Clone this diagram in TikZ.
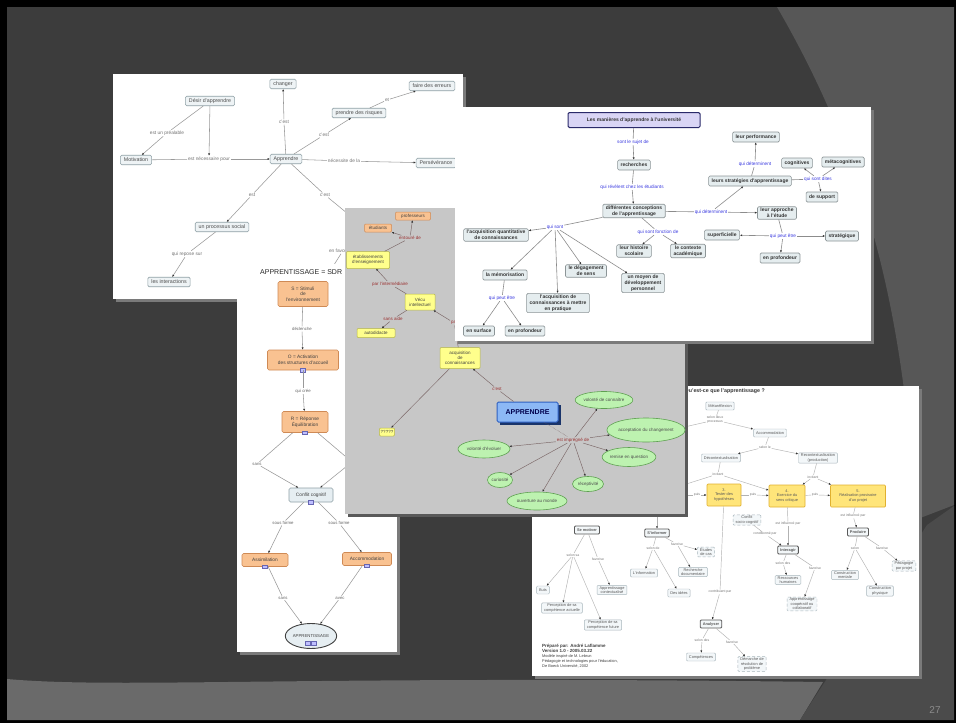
\documentclass[tikz,border=0pt]{standalone}
\usepackage{fontspec}
\setmainfont{Liberation Sans}
\setsansfont{Liberation Sans}
\usetikzlibrary{arrows.meta,shapes.geometric}
\definecolor{bgdark}{HTML}{3C3C3C}
\definecolor{bglight}{HTML}{575757}
\definecolor{bgband}{HTML}{6A6A6A}
\definecolor{bgmed}{HTML}{4B4B4B}
\definecolor{shad}{HTML}{7A7A7A}
\definecolor{cfillA}{HTML}{EEF3F5}
\definecolor{cdrawA}{HTML}{8FA0A6}
\definecolor{orfill}{HTML}{F9C291}
\definecolor{ordraw}{HTML}{CF8A55}
\definecolor{yefill}{HTML}{FFFF8C}
\definecolor{yedraw}{HTML}{B5B54A}
\definecolor{yetwofill}{HTML}{FFE57A}
\definecolor{yetwodraw}{HTML}{E0B030}
\definecolor{grfill}{HTML}{BDF2B0}
\definecolor{grdraw}{HTML}{5FA052}
\definecolor{apfill}{HTML}{8CB8F5}
\definecolor{apdraw}{HTML}{2E5FC0}
\definecolor{panD}{HTML}{C7C7C7}
\definecolor{labBc}{HTML}{3A3AE0}
\definecolor{labDc}{HTML}{9A3030}
\definecolor{lnDc}{HTML}{7A6565}
\definecolor{titB}{HTML}{D9D5F5}
\definecolor{titBd}{HTML}{2A2A6A}
\definecolor{cfillB}{HTML}{E5EDEF}
\definecolor{cdrawB}{HTML}{8C9597}
\definecolor{cfillE}{HTML}{F3F7F9}
\definecolor{cdrawE}{HTML}{A8B6BC}
\definecolor{ccfill}{HTML}{E6EEF2}
\newcommand\myfsA{\fontsize{5.3}{6}\selectfont}
\newcommand\myfsAl{\fontsize{4.8}{5.5}\selectfont}
\newcommand\myfsB{\fontsize{5}{5.8}\selectfont\bfseries}
\newcommand\myfsBl{\fontsize{4.7}{5.4}\selectfont}
\newcommand\myfsC{\fontsize{4.8}{5.5}\selectfont}
\newcommand\myfsCl{\fontsize{4.3}{5}\selectfont}
\newcommand\myfsD{\fontsize{4.5}{5.1}\selectfont}
\newcommand\myfsE{\fontsize{3.9}{4.5}\selectfont}
\newcommand\myfsEl{\fontsize{3.4}{4}\selectfont}
\begin{document}
\begin{tikzpicture}[x=1pt,y=-1pt,
 ar/.style={-{Latex[length=2.3pt,width=2.1pt,color=black!80]}},
 cA/.style={draw=cdrawA, fill=cfillA, rounded corners=1.3pt, line width=0.55pt, inner xsep=3.5pt, inner ysep=1pt, minimum height=9.5pt, font=\myfsA, text=black!70},
 labA/.style={inner sep=0.8pt, font=\myfsAl, text=black!55},
 lnA/.style={draw=black!40, line width=0.55pt},
 cB/.style={draw=cdrawB, fill=cfillB, rounded corners=1.3pt, line width=0.6pt, inner xsep=3pt, inner ysep=1.5pt, minimum height=10pt, font=\myfsB, text=black!80, align=center},
 labB/.style={inner sep=0.8pt, font=\myfsBl, text=labBc, align=center},
 lnB/.style={draw=black!45, line width=0.6pt},
 orC/.style={draw=ordraw, fill=orfill, rounded corners=1.5pt, line width=0.6pt, inner sep=1.5pt, font=\myfsC, text=black!75, align=center},
 labC/.style={inner sep=0.8pt, font=\myfsCl, text=black!60},
 lnC/.style={draw=black!40, line width=0.55pt},
 icon/.style={draw=blue!50!black!60, fill=blue!25, minimum width=5pt, minimum height=3.5pt, inner sep=0pt},
 yeD/.style={draw=yedraw, fill=yefill, rounded corners=1pt, line width=0.5pt, inner sep=1.3pt, font=\myfsD, text=black!75, align=center},
 orD/.style={yeD, draw=ordraw, fill=orfill},
 ellD/.style={ellipse, draw=grdraw, fill=grfill, line width=0.6pt, inner sep=0pt, font=\myfsD, text=black!70},
 labD/.style={inner sep=0.8pt, font=\myfsD, text=labDc},
 lnD/.style={draw=lnDc, line width=0.45pt},
 cE/.style={draw=cdrawE, fill=cfillE, rounded corners=1pt, line width=0.45pt, inner xsep=2.5pt, inner ysep=1pt, minimum height=8pt, font=\myfsE, text=black!65, align=center},
 cEb/.style={cE, draw=black!65, line width=0.9pt, font=\myfsE\bfseries},
 dashE/.style={cE, densely dashed},
 yeE/.style={cE, fill=yetwofill, draw=yetwodraw, line width=0.7pt, minimum height=22pt},
 labE/.style={inner sep=0.6pt, font=\myfsEl, text=black!55, align=center},
 lnE/.style={draw=black!30, line width=0.45pt}]
\useasboundingbox (0,0) rectangle (956,723);
% ---------- background ----------
\fill[black] (0,0) rectangle (956,723);
\fill[bgdark] (7,7) rectangle (954,720);
\fill[bglight] (777,7) .. controls (860,150) and (905,300) .. (915,520) -- (954,505) -- (954,7) -- cycle;
\fill[bgband] (7,679) .. controls (120,689) and (300,675) .. (823,682) -- (800,720) -- (7,720) -- cycle;
\fill[bgmed] (800,720) -- (927,525) -- (954,506) -- (954,720) -- cycle;
\node[text=black!45!white, font=\fontsize{10}{12}\selectfont] (num) at (935,710) {27};
% ---------- panel A ----------
\fill[shad] (116,77) rectangle (466,302);
\fill[white] (113,74) rectangle (463,299);
\node[cA] (a_changer) at (283,84) {changer};
\node[cA] (a_faire) at (432,86) {faire des erreurs};
\node[cA] (a_desir) at (210,101) {Désir d'apprendre};
\node[cA] (a_risques) at (359,113) {prendre des risques};
\node[cA] (a_motiv) at (136,160) {Motivation};
\node[cA] (a_appr) at (286,159) {Apprendre};
\node[cA] (a_perse) at (436,163) {Persévérance};
\node[cA] (a_proc) at (222,227) {un processus social};
\node[cA] (a_inter) at (169,282) {les interactions};
\node[labA] (la1) at (167,133) {est un préalable};
\node[labA] (la2) at (209,159) {est nécessaire pour};
\node[labA] (la3) at (284,122) {c'est};
\node[labA] (la4) at (324,135) {c'est};
\node[labA] (la5) at (387,100) {et};
\node[labA] (la6) at (344,161) {nécessite de la};
\node[labA] (la7) at (252,195) {est};
\node[labA] (la8) at (325,195) {c'est};
\node[labA] (la9) at (187,254) {qui repose sur};
\node[labA, anchor=west] (la10) at (328,251) {en favorisant};
\coordinate (a_hid) at (370,232);
\coordinate (a_hid2) at (332,268);
\draw[lnA] (a_desir) -- (la1); \draw[lnA,ar] (la1) -- (a_motiv);
\draw[lnA,ar] (a_desir) -- (la2);
\draw[lnA] (a_motiv) -- (la2); \draw[lnA,ar] (la2) -- (a_appr);
\draw[lnA] (a_appr) -- (la3); \draw[lnA,ar] (la3) -- (a_changer);
\draw[lnA] (a_appr) -- (la4); \draw[lnA,ar] (la4) -- (a_risques);
\draw[lnA] (a_risques) -- (la5); \draw[lnA,ar] (la5) -- (a_faire);
\draw[lnA] (a_appr) -- (la6); \draw[lnA,ar] (la6) -- (a_perse);
\draw[lnA] (a_appr) -- (la7); \draw[lnA,ar] (la7) -- (a_proc);
\draw[lnA] (a_appr) -- (la8); \draw[lnA] (la8) -- (a_hid);
\draw[lnA] (a_proc) -- (la9); \draw[lnA,ar] (la9) -- (a_inter);
\draw[lnA] (la10) -- (a_hid2);
% ---------- panel C ----------
\fill[shad] (240,267) rectangle (400,655);
\fill[white] (237,264) rectangle (397,652);
\node[anchor=west, inner sep=0, font=\fontsize{7}{8}\selectfont, text=black!85] (c_title) at (260,272) {APPRENTISSAGE = SDR};
\node[orC, minimum width=50pt, minimum height=25pt] (c_S) at (303,294) {S = Stimuli\\de\\l'environnement};
\node[labC] (c_l1) at (302,329) {déclenche};
\node[orC, minimum width=71pt, minimum height=20pt] (c_O) at (303,360) {O = Activation\\des structures d'accueil};
\node[labC] (c_l2) at (303,391) {qui crée};
\node[orC, minimum width=46pt, minimum height=21pt] (c_R) at (305,422) {R = Réponse\\Équilibration};
\node[labC] (c_l3) at (257,464) {sans};
\coordinate (c_hr) at (352,462);
\node[orC, draw=cdrawA, fill=ccfill, minimum width=44pt, minimum height=14pt] (c_CC) at (311,495) {Conflit cognitif};
\node[labC] (c_l5) at (283,523) {sous forme};
\node[labC] (c_l6) at (339,523) {sous forme};
\node[orC, minimum width=46pt, minimum height=13pt] (c_As) at (265,560) {Assimilation};
\node[orC, minimum width=49pt, minimum height=13pt] (c_Ac) at (367,559) {Accommodation};
\node[labC] (c_l7) at (283,598) {sans};
\node[labC] (c_l8) at (340,598) {avec};
\node[ellipse, draw=black!75, line width=0.9pt, fill=ccfill, minimum width=47pt, minimum height=25pt, inner sep=0pt, font=\fontsize{4.3}{5}\selectfont, text=black!75] (c_APP) at (311,636) {APPRENTISSAGE};
\node[icon] (c_i1) at (c_O.south) {};
\node[icon] (c_i2) at (c_R.south) {};
\node[icon] (c_i3) at (c_CC.south) {};
\node[icon] (c_i4) at (c_As.south) {};
\node[icon] (c_i5) at (c_Ac.south) {};
\node[icon] (c_i6) at (308,643) {};
\node[icon] (c_i7) at (314,643) {};
\draw[lnC] (c_S) -- (c_l1); \draw[lnC,ar] (c_l1) -- (c_O);
\draw[lnC] (c_O) -- (c_l2); \draw[lnC,ar] (c_l2) -- (c_R);
\draw[lnC] (c_R) -- (c_l3); \draw[lnC,ar] (c_l3) -- (c_CC);
\draw[lnC] (c_R) -- (c_hr); \draw[lnC,ar] (c_hr) -- (c_CC);
\draw[lnC] (c_CC) -- (c_l5); \draw[lnC,ar] (c_l5) -- (c_As);
\draw[lnC] (c_CC) -- (c_l6); \draw[lnC,ar] (c_l6) -- (c_Ac);
\draw[lnC] (c_As) -- (c_l7); \draw[lnC,ar] (c_l7) -- (c_APP);
\draw[lnC] (c_Ac) -- (c_l8); \draw[lnC,ar] (c_l8) -- (c_APP);
% ---------- panel E ----------
\fill[shad] (535,389) rectangle (922,679);
\fill[white] (532,386) rectangle (919,676);
\node[anchor=east, inner sep=0, font=\fontsize{5.3}{6}\selectfont\bfseries, text=black!80] (e_title) at (765,391) {Qu'est-ce que l'apprentissage ?};
\node[cE] (e_meta) at (720,406) {Métaréflexion};
\node[labE] (e_l1) at (715,420) {selon deux\\processus};
\node[cE] (e_accom) at (770,433) {Accommodation};
\node[labE] (e_l2) at (765,447) {selon le};
\node[cE] (e_decon) at (721,458) {Décontextualisation};
\node[cE] (e_recon) at (818,458) {Recontextualisation\\(production)};
\node[labE] (e_l3) at (718,474) {incitant};
\node[labE] (e_l4) at (813,477) {incitant};
\node[yeE, minimum width=34pt] (e_y3) at (724,495) {3.\\Tester des\\hypothèses};
\node[yeE, minimum width=36pt] (e_y4) at (787,496) {4.\\Exercice du\\sens critique};
\node[yeE, minimum width=55pt] (e_y5) at (858,496) {5.\\Réalisation provisoire\\d'un projet};
\node[labE] (e_l5) at (697,495) {puis};
\node[labE] (e_l6) at (753,495) {puis};
\node[labE] (e_l7) at (815,495) {puis};
\coordinate (e_hl) at (680,495);
\coordinate (e_hm) at (680,428);
\coordinate (e_hd) at (680,486);
\coordinate (e_hi) at (657,512);
\node[dashE] (e_conf) at (747,520) {Conflit\\socio-cognitif};
\node[labE] (e_l8) at (788,524) {est influencé par};
\node[labE] (e_l9) at (765,534) {conditionné par};
\node[cEb] (e_inter) at (788,550) {Interagir};
\node[labE] (e_l10) at (853,516) {est influencé par};
\node[cEb] (e_prod) at (858,532) {Produire};
\node[labE] (e_l11) at (783,563) {selon des};
\node[labE] (e_l12) at (815,568) {favorise};
\node[cE] (e_rh) at (788,580) {Ressources\\humaines};
\node[dashE] (e_coop) at (802,604) {Apprentissage\\coopératif ou\\collaboratif};
\node[labE] (e_l13) at (855,548) {selon};
\node[labE] (e_l14) at (882,548) {favorise};
\node[cE] (e_cm) at (845,575) {Construction\\mentale};
\node[cE] (e_cp) at (880,591) {Construction\\physique};
\node[dashE] (e_pp) at (904,566) {Pédagogie\\par projet};
\node[cEb] (e_motiv) at (587,530) {Se motiver};
\node[cEb] (e_info) at (657,533) {S'informer};
\node[labE] (e_l15) at (573,555) {selon sa};
\node[labE] (e_l16) at (598,559) {favorise};
\node[cE] (e_buts) at (543,590) {Buts};
\node[cE] (e_actx) at (612,590) {Apprentissage\\contextualisé};
\node[cE] (e_pca) at (562,608) {Perception de sa\\compétence actuelle};
\node[cE] (e_pcf) at (603,625) {Perception de sa\\compétence future};
\node[labE] (e_l17) at (653,548) {selon de};
\node[labE] (e_l18) at (677,544) {favorise};
\node[dashE] (e_cas) at (706,552) {Études\\de cas};
\node[cE] (e_rdoc) at (693,572) {Recherche\\documentaire};
\node[cE] (e_linfo) at (644,573) {L'information};
\node[cE] (e_idees) at (679,593) {Des idées};
\node[labE] (e_l19) at (720,592) {contribuent par};
\node[cEb] (e_anal) at (711,624) {Analyser};
\node[labE] (e_l20) at (702,640) {selon des};
\node[labE] (e_l21) at (732,642) {favorise};
\node[cE] (e_comp) at (701,657) {Compétences};
\node[dashE] (e_dem) at (752,664) {Démarche de\\résolution de\\problème};
\node[anchor=north west, align=left, inner sep=0, font=\fontsize{3.9}{5}\selectfont, text=black!75] (e_cred) at (542,644) {{\bfseries\fontsize{4.5}{5}\selectfont Préparé par: André Laflamme}\\{\bfseries\fontsize{4.5}{5}\selectfont Version 1.0 - 2005.03.22}\\Modèle inspiré de M. Lebrun\\Pédagogie et technologies pour l'éducation,\\De Boeck Université, 2002};
\draw[lnE] (e_meta) -- (e_l1); \draw[lnE,ar] (e_l1) -- (e_accom); \draw[lnE] (e_l1) -- (e_hm);
\draw[lnE] (e_accom) -- (e_l2); \draw[lnE,ar] (e_l2) -- (e_decon); \draw[lnE,ar] (e_l2) -- (e_recon);
\draw[lnE] (e_decon) -- (e_l3); \draw[lnE,ar] (e_l3) -- (e_y4); \draw[lnE] (e_l3) -- (e_hd);
\draw[lnE] (e_recon) -- (e_l4); \draw[lnE,ar] (e_l4) -- (e_y4); \draw[lnE,ar] (e_l4) -- (e_y5);
\draw[lnE] (e_hl) -- (e_l5); \draw[lnE,ar] (e_l5) -- (e_y3);
\draw[lnE] (e_y3) -- (e_l6); \draw[lnE,ar] (e_l6) -- (e_y4);
\draw[lnE] (e_y4) -- (e_l7); \draw[lnE,ar] (e_l7) -- (e_y5);
\draw[lnE] (e_y3) -- (e_l19); \draw[lnE,ar] (e_l19) -- (e_anal);
\draw[lnE] (e_y4) -- (e_l8); \draw[lnE,ar] (e_l8) -- (e_inter);
\draw[lnE] (e_conf) -- (e_l9); \draw[lnE,ar] (e_l9) -- (e_inter);
\draw[lnE] (e_y5) -- (e_l10); \draw[lnE,ar] (e_l10) -- (e_prod);
\draw[lnE] (e_inter) -- (e_l11); \draw[lnE,ar] (e_l11) -- (e_rh);
\draw[lnE] (e_inter) -- (e_l12); \draw[lnE,ar] (e_l12) -- (e_coop);
\draw[lnE] (e_prod) -- (e_l13); \draw[lnE,ar] (e_l13) -- (e_cm); \draw[lnE,ar] (e_l13) -- (e_cp);
\draw[lnE] (e_prod) -- (e_l14); \draw[lnE,ar] (e_l14) -- (e_pp);
\draw[lnE] (e_motiv) -- (e_l15); \draw[lnE,ar] (e_l15) -- (e_buts); \draw[lnE,ar] (e_l15) -- (e_pca); \draw[lnE,ar] (e_l15) -- (e_pcf);
\draw[lnE] (e_motiv) -- (e_l16); \draw[lnE,ar] (e_l16) -- (e_actx);
\draw[lnE] (e_info) -- (e_l17); \draw[lnE,ar] (e_l17) -- (e_linfo); \draw[lnE,ar] (e_l17) -- (e_idees);
\draw[lnE] (e_info) -- (e_l18); \draw[lnE,ar] (e_l18) -- (e_cas); \draw[lnE,ar] (e_l18) -- (e_rdoc);
\draw[lnE,ar] (e_hi) -- (e_info);
\draw[lnE] (e_anal) -- (e_l20); \draw[lnE,ar] (e_l20) -- (e_comp);
\draw[lnE] (e_anal) -- (e_l21); \draw[lnE,ar] (e_l21) -- (e_dem);
% ---------- panel D ----------
\fill[black!65] (348,211) rectangle (688,517);
\fill[panD] (345,208) rectangle (685,514);
\node[orD, minimum width=35pt, minimum height=8pt] (d_prof) at (413,216) {professeurs};
\node[orD, minimum width=27pt, minimum height=8pt] (d_etu) at (378,228) {étudiants};
\node[labD] (d_l1) at (410,238) {entouré de};
\node[yeD, minimum width=43pt, minimum height=17pt] (d_etab) at (368,260) {établissements\\d'enseignement};
\node[labD] (d_l2) at (390,284) {par l'intermédiaire};
\node[yeD, minimum width=30pt, minimum height=16pt] (d_vecu) at (420,302) {Vécu\\intellectuel};
\node[labD] (d_l3) at (393,319) {sans aide};
\node[yeD, minimum width=38pt, minimum height=9pt] (d_auto) at (376,333) {autodidacte};
\node[labD, anchor=west] (d_l4) at (450,323) {par};
\node[yeD, minimum width=40pt, minimum height=21pt] (d_acq) at (460,358) {acquisition\\de\\connaissances};
\node[labD] (d_l5) at (497,389) {c'est};
\fill[apdraw!55!black] (500,405) rectangle (561,425);
\node[draw=apdraw, fill=apfill, line width=1pt, rounded corners=1.5pt, minimum width=61pt, minimum height=20pt, inner sep=0pt, font=\fontsize{7}{8}\selectfont\bfseries, text=blue!30!black] (d_APP) at (527.5,412) {APPRENDRE};
\node[yeD, minimum width=15pt, minimum height=8pt] (d_q) at (387,432) {?????};
\node[labD] (d_l6) at (573,440) {est imprégné de};
\node[ellD, minimum width=55pt, minimum height=17pt] (d_e1) at (604,400) {volonté de connaître};
\node[ellD, minimum width=72pt, minimum height=24pt] (d_e2) at (646,430) {acceptation du changement};
\node[ellD, minimum width=52pt, minimum height=19pt] (d_e3) at (629,457) {remise en question};
\node[ellD, minimum width=52pt, minimum height=18pt] (d_e4) at (484,449) {volonté d'évoluer};
\node[ellD, minimum width=25pt, minimum height=15pt] (d_e5) at (500,480) {curiosité};
\node[ellD, minimum width=31pt, minimum height=15pt] (d_e6) at (588,484) {réceptivité};
\node[ellD, minimum width=60pt, minimum height=18pt] (d_e7) at (537,501) {ouverture au monde};
\draw[lnD] (d_etab) -- (d_l1); \draw[lnD,ar] (d_l1) -- (d_prof); \draw[lnD,ar] (d_l1) -- (d_etu);
\draw[lnD] (d_vecu) -- (d_l2); \draw[lnD,ar] (d_l2) -- (d_etab);
\draw[lnD] (d_vecu) -- (d_l3); \draw[lnD,ar] (d_l3) -- (d_auto);
\draw[lnD] (d_acq) -- (d_l4); \draw[lnD,ar] (d_l4) -- (d_vecu);
\draw[lnD] (d_APP) -- (d_l5); \draw[lnD,ar] (d_l5) -- (d_acq);
\draw[lnD,ar] (d_acq) -- (d_q);
\draw[lnD,densely dotted] (d_APP) -- (d_l6);
\foreach \t in {d_e1,d_e2,d_e3,d_e4,d_e5,d_e6,d_e7} \draw[lnD,ar] (d_l6) -- (\t);
% ---------- panel B ----------
\fill[shad] (458,110) rectangle (874,344);
\fill[white] (455,107) rectangle (871,341);
\node[cB, fill=titB, draw=titBd, line width=1pt, minimum width=132pt, minimum height=15pt] (b_title) at (634,120) {Les manières d'apprendre à l'université};
\node[labB] (b_l1) at (633,142) {sont le sujet de};
\node[cB] (b_rech) at (634,165) {recherches};
\node[labB] (b_l2) at (632,187) {qui révèlent chez les étudiants};
\node[cB] (b_diff) at (634,211) {différentes conceptions\\de l'apprentissage};
\node[labB] (b_l3) at (555,227) {qui sont};
\node[labB] (b_l4) at (658,232) {qui sont fonction de};
\node[labB] (b_l5) at (711,212) {qui déterminent};
\node[cB] (b_appr) at (777,213) {leur approche\\à l'étude};
\node[cB] (b_strat) at (750,181) {leurs stratégies d'apprentissage};
\node[labB] (b_l6) at (755,164) {qui déterminent};
\node[cB] (b_perf) at (756,137) {leur performance};
\node[cB] (b_cog) at (797,163) {cognitives};
\node[cB] (b_meta) at (843,162) {métacognitives};
\node[labB] (b_l7) at (818,179) {qui sont dites};
\node[cB] (b_supp) at (822,197) {de support};
\node[cB] (b_hist) at (634,251) {leur histoire\\scolaire};
\node[cB] (b_ctx) at (688,251) {le contexte\\académique};
\node[cB] (b_sup) at (722,235) {superficielle};
\node[labB] (b_l8) at (783,236) {qui peut être};
\node[cB] (b_strg) at (842,236) {stratégique};
\node[cB] (b_prof) at (780,258) {en profondeur};
\node[cB] (b_quant) at (496,235) {l'acquisition quantitative\\de connaissances};
\node[cB] (b_mem) at (505,275) {la mémorisation};
\node[cB] (b_deg) at (586,271) {le dégagement\\de sens};
\node[cB] (b_moy) at (643,283) {un moyen de\\développement\\personnel};
\node[cB] (b_prat) at (558,303) {l'acquisition de\\connaissances à mettre\\en pratique};
\node[labB] (b_l9) at (502,298) {qui peut être};
\node[cB] (b_surf) at (479,331) {en surface};
\node[cB] (b_prof2) at (525,331) {en profondeur};
\draw[lnB] (b_title) -- (b_l1); \draw[lnB,ar] (b_l1) -- (b_rech);
\draw[lnB] (b_rech) -- (b_l2); \draw[lnB,ar] (b_l2) -- (b_diff);
\draw[lnB] (b_diff) -- (b_l3);
\foreach \t in {b_quant,b_mem,b_prat,b_deg,b_moy} \draw[lnB,ar] (b_l3) -- (\t);
\draw[lnB] (b_diff) -- (b_l4);
\foreach \t in {b_hist,b_ctx} \draw[lnB,ar] (b_l4) -- (\t);
\draw[lnB] (b_diff) -- (b_l5); \draw[lnB,ar] (b_l5) -- (b_appr); \draw[lnB,ar] (b_l5) -- (b_strat);
\draw[lnB] (b_strat) -- (b_l6); \draw[lnB,ar] (b_l6) -- (b_perf);
\draw[lnB] (b_strat) -- (b_l7);
\foreach \t in {b_cog,b_meta,b_supp} \draw[lnB,ar] (b_l7) -- (\t);
\draw[lnB] (b_appr) -- (b_l8);
\foreach \t in {b_sup,b_strg,b_prof} \draw[lnB,ar] (b_l8) -- (\t);
\draw[lnB] (b_mem) -- (b_l9);
\foreach \t in {b_surf,b_prof2} \draw[lnB,ar] (b_l9) -- (\t);
\end{tikzpicture}
\end{document}
